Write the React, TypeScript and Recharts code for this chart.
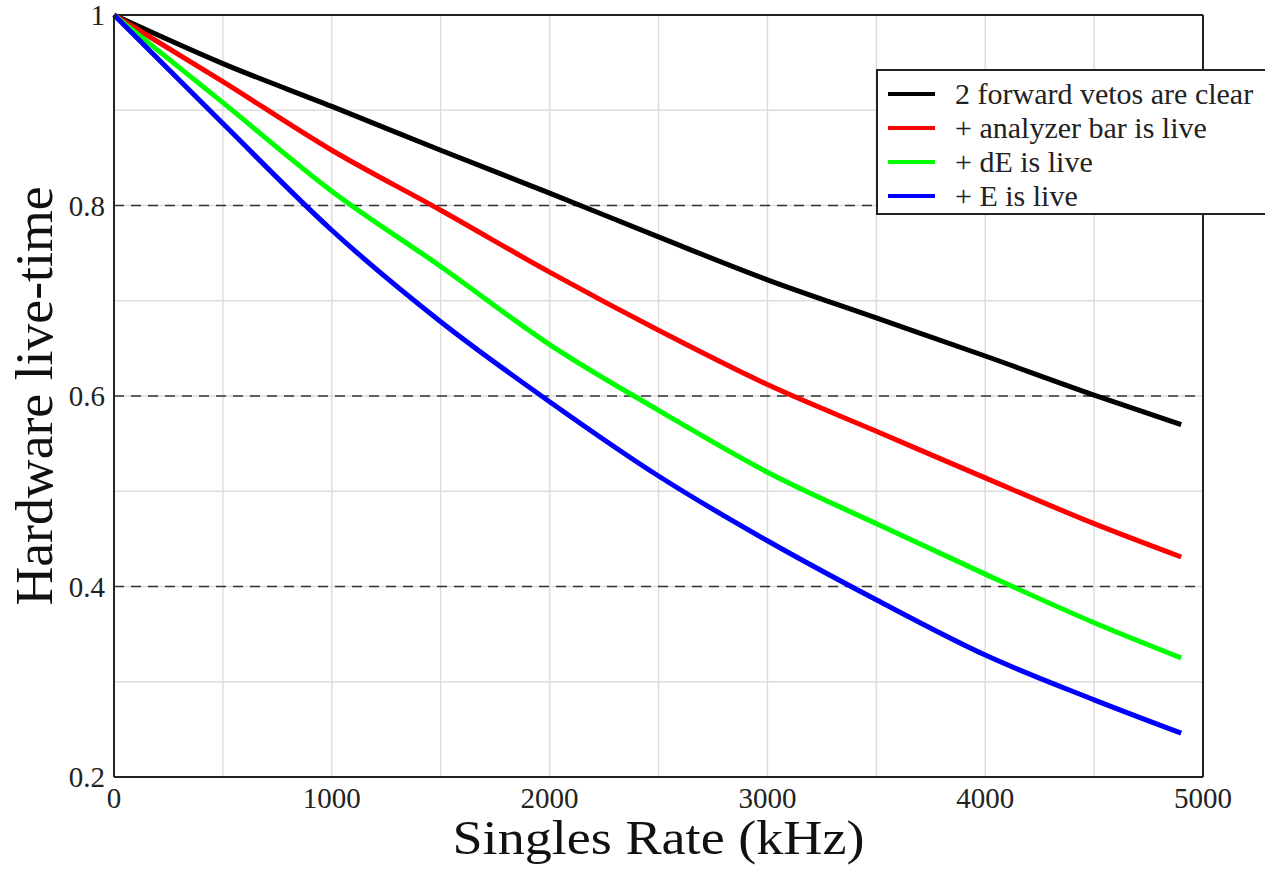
import React from "react";
import {
  CartesianGrid,
  Line,
  LineChart,
  ReferenceLine,
  XAxis,
  YAxis,
} from "recharts";

// singles rate (kHz) and hardware live-time
const rate = [0, 500, 1000, 1500, 2000, 2500, 3000, 3500, 4000, 4500, 4900];
const vetosClear = [1, 0.949, 0.904, 0.858, 0.813, 0.767, 0.722, 0.682, 0.642, 0.601, 0.57];
const analyzerLive = [1, 0.93, 0.858, 0.795, 0.73, 0.669, 0.612, 0.563, 0.514, 0.466, 0.431];
const dELive = [1, 0.908, 0.815, 0.736, 0.654, 0.585, 0.52, 0.466, 0.413, 0.362, 0.325];
const eLive = [1, 0.886, 0.774, 0.678, 0.594, 0.516, 0.448, 0.386, 0.328, 0.281, 0.246];

const xTicks = [0, 500, 1000, 1500, 2000, 2500, 3000, 3500, 4000, 4500, 5000];
const xLabels = ["0", "", "1000", "", "2000", "", "3000", "", "4000", "", "5000"];
const yTicks = [0.2, 0.3, 0.4, 0.5, 0.6, 0.7, 0.8, 0.9, 1];
const yLabels = ["0.2", "", "0.4", "", "0.6", "", "0.8", "", "1"];
const dashedLevels = [0.8, 0.6, 0.4];

const series = [
  { key: "vetos", name: "2 forward vetos are clear", color: "#000000", values: vetosClear },
  { key: "analyzer", name: "+ analyzer bar is live", color: "#ff0000", values: analyzerLive },
  { key: "dE", name: "+ dE is live", color: "#00ff00", values: dELive },
  { key: "E", name: "+ E is live", color: "#0000ff", values: eLive },
];

const data = rate.map((r, i) => {
  const row: Record<string, number> = { rate: r };
  series.forEach((s) => (row[s.key] = s.values[i]));
  return row;
});

const FONT = "'Liberation Serif', 'Times New Roman', serif";
const INK = "#222";

function LegendBox() {
  return (
    <div
      style={{
        position: "absolute",
        left: 876,
        top: 69,
        border: `2px solid ${INK}`,
        background: "#fff",
        width: 395,
        paddingTop: 6,
        boxSizing: "border-box",
      }}
    >
      {series.map((s) => (
        <div
          key={s.key}
          style={{ height: 34, display: "flex", alignItems: "center", whiteSpace: "nowrap" }}
        >
          <span
            style={{
              display: "inline-block",
              width: 47,
              height: 4,
              marginLeft: 10,
              marginRight: 20,
              background: s.color,
            }}
          />
          <span
            style={{ lineHeight: "34px", fontFamily: FONT, fontSize: 30, color: INK }}
          >
            {s.name}
          </span>
        </div>
      ))}
    </div>
  );
}

export default function App() {
  return (
    <div
      style={{
        position: "absolute",
        left: 0,
        top: 0,
        width: 1265,
        height: 872,
        overflow: "hidden",
        background: "#fff",
      }}
    >
      <LineChart
        width={1265}
        height={872}
        data={data}
        margin={{ top: 15, right: 62, left: 0, bottom: 0 }}
      >
        <CartesianGrid stroke="#dddddd" strokeWidth={1.5} />
        <XAxis
          dataKey="rate"
          type="number"
          domain={[0, 5000]}
          ticks={xTicks}
          interval={0}
          tickFormatter={(_v, i) => xLabels[i]}
          height={95}
          tickLine={false}
          tickSize={0}
          tickMargin={10}
          axisLine={{ stroke: INK, strokeWidth: 2 }}
          tick={{ fill: INK, fontSize: 29, fontFamily: FONT }}
          label={{
            content: (props: any) => {
              const vb = props.viewBox || { x: 114, y: 777, width: 1089, height: 95 };
              return (
                <text
                  x={vb.x + vb.width / 2}
                  y={vb.y + vb.height - 18}
                  textAnchor="middle"
                  fontFamily={FONT}
                  fontSize={48}
                  fill="#111"
                  textLength={412}
                  lengthAdjust="spacingAndGlyphs"
                >
                  Singles Rate (kHz)
                </text>
              );
            },
          }}
        />
        <YAxis
          type="number"
          domain={[0.2, 1]}
          ticks={yTicks}
          interval={0}
          tickFormatter={(_v, i) => yLabels[i]}
          width={114}
          tickLine={false}
          tickSize={0}
          tickMargin={9}
          axisLine={{ stroke: INK, strokeWidth: 2 }}
          tick={{ fill: INK, fontSize: 29, fontFamily: FONT }}
          label={{
            content: (props: any) => {
              const vb = props.viewBox || { x: 0, y: 15, width: 114, height: 762 };
              const cx = vb.x + 52;
              const cy = vb.y + vb.height / 2;
              return (
                <text
                  x={cx}
                  y={cy}
                  transform={`rotate(-90 ${cx} ${cy})`}
                  textAnchor="middle"
                  fontFamily={FONT}
                  fontSize={53}
                  fill="#111"
                  textLength={419}
                  lengthAdjust="spacingAndGlyphs"
                >
                  Hardware live-time
                </text>
              );
            },
          }}
        />
        {dashedLevels.map((lv) => (
          <ReferenceLine
            key={lv}
            y={lv}
            stroke="#333"
            strokeWidth={1.5}
            strokeDasharray="10 7"
          />
        ))}
        <ReferenceLine y={1} stroke={INK} strokeWidth={2} />
        <ReferenceLine x={5000} stroke={INK} strokeWidth={2} />
        {series.map((s) => (
          <Line
            key={s.key}
            dataKey={s.key}
            name={s.name}
            type="monotone"
            stroke={s.color}
            strokeWidth={5}
            dot={false}
            isAnimationActive={false}
          />
        ))}
      </LineChart>
      <LegendBox />
    </div>
  );
}
